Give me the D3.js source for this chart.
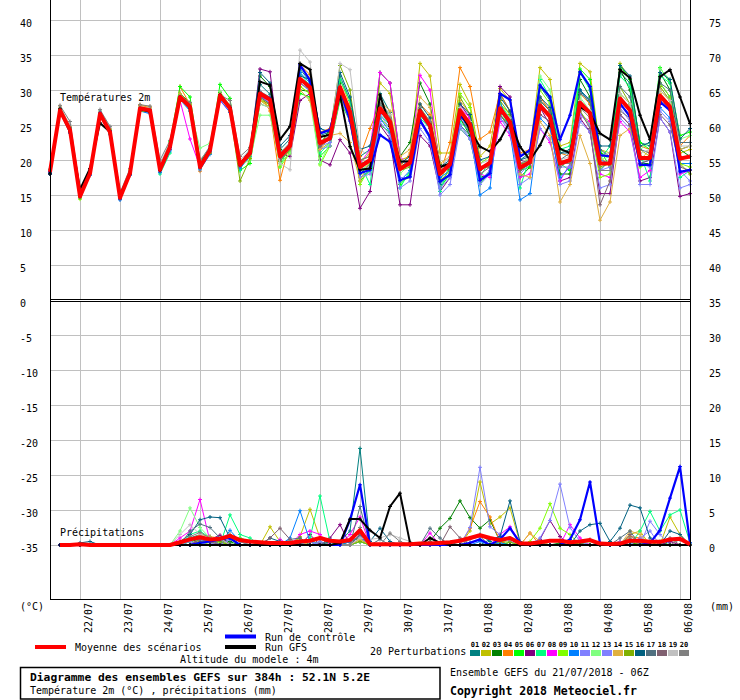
<!DOCTYPE html>
<html>
<head>
<meta charset="utf-8">
<script src="https://cdn.jsdelivr.net/npm/d3@7"></script>
<style>
body { margin: 0; background: #fff; }
text { font-family: "DejaVu Sans Mono", monospace; font-size: 10px; fill: #000; }
</style>
</head>
<body>
<script>
// run time axis: 21/07/2018 06Z + 0..384h every 6h
var hours = d3.range(0, 385, 6);
var dayHours = d3.range(18, 384, 24);
var dayLabels = ['22/07','23/07','24/07','25/07','26/07','27/07','28/07','29/07','30/07','31/07','01/08','02/08','03/08','04/08','05/08','06/08'];
var leftTicks = [40,35,30,25,20,15,10,5,0,-5,-10,-15,-20,-25,-30,-35];
var rightTicks = [75,70,65,60,55,50,45,40,35,30,25,20,15,10,5,0];

var pertNames = ['01','02','03','04','05','06','07','08','09','10','11','12','13','14','15','16','17','18','19','20'];
var pertColors = ['#008080','#c0c000','#008000','#ff8000','#00ff00','#800080','#00ff80','#ff00ff','#80ff00','#0080ff',
                  '#8080ff','#80ff80','#8080ff','#e0b040','#80b000','#006080','#507080','#806070','#c0c0c0','#808080'];

// temperature 2m (°C)
var tMean = [18.3,27.1,24.3,14.8, 18.1,26.6,24.0,14.6, 18.1,27.4,27.1,18.6, 21.9,29.0,27.6,19.0, 21.4,29.2,27.4,19.3, 21.0,29.5,28.6,20.5, 22.0,31.6,30.4,22.4, 23.1,30.4,26.9,19.0, 20.0,27.4,25.5,18.7, 19.6,27.0,24.9,18.0, 19.4,27.1,25.1,18.7, 19.6,27.4,25.4,18.9, 19.7,27.8,26.2,19.5, 20.0,28.2,26.7,19.5, 19.5,28.8,27.1,20.3, 20.3,29.2,27.6,20.2, 20.5];
var tCtl = [18.3,27.0,24.2,14.8, 18.2,26.7,24.0,14.6, 18.1,27.3,27.0,18.6, 21.8,29.0,27.5,19.0, 21.3,29.1,27.3,19.2, 21.0,29.5,28.8,20.5, 22.0,33.6,31.4,23.8, 24.3,30.0,25.7,18.1, 18.6,23.6,22.6,17.1, 17.6,25.7,23.3,16.9, 17.9,26.4,24.8,17.1, 18.1,29.5,28.6,20.5, 21.4,30.7,29.0,22.9, 26.4,32.6,30.5,20.7, 20.5,28.1,26.2,19.3, 19.3,28.3,27.1,18.3, 18.6];
var tGfs = [18.0,27.3,24.0,15.8, 18.8,25.3,24.0,15.0, 18.0,27.3,26.9,18.5, 22.0,29.0,27.4,19.2, 21.6,29.3,27.5,19.5, 21.0,31.2,30.7,22.9, 24.8,33.8,32.9,23.3, 23.6,29.3,21.9,18.6, 18.8,29.3,24.8,19.8, 19.8,27.1,25.0,19.0, 19.5,27.0,24.3,21.9, 21.2,22.9,25.5,21.9, 20.0,22.1,25.2,21.6, 21.0,27.6,26.7,23.8, 22.9,32.9,31.7,26.4, 22.9,31.9,32.9,29.0, 25.2];

var t01 = [18.0,27.4,24.0,14.9, 18.3,26.9,24.3,14.5, 18.0,27.2,26.8,18.3, 21.5,28.6,27.2,19.6, 21.8,29.0,27.8,19.0, 21.5,30.8,29.4,21.5, 23.0,33.0,31.2,23.5, 24.0,32.0,28.5,20.5, 21.5,29.5,26.8,19.0, 20.0,25.5,23.0,16.5, 18.0,25.0,23.5,17.0, 18.5,29.5,27.0,20.0, 21.0,30.5,28.5,21.0, 21.5,30.0,28.0,18.5, 20.0,32.5,31.0,22.5, 22.0,31.0,29.0,21.5, 22.0];
var t02 = [18.5,27.0,24.5,14.7, 18.0,26.8,23.8,14.8, 18.3,27.6,27.3,18.8, 22.0,29.3,28.0,19.3, 21.0,29.4,27.0,19.8, 20.5,28.5,28.0,20.0, 21.5,30.5,29.5,21.5, 22.5,31.5,28.0,19.5, 21.0,31.0,29.5,20.0, 20.5,33.8,32.0,21.0, 21.0,30.8,28.0,20.5, 22.0,30.2,28.5,20.5, 21.5,33.2,31.5,22.0, 22.5,33.8,32.6,21.5, 21.0,33.8,31.5,21.5, 20.5,30.0,28.5,21.0, 21.5];
var t03 = [18.2,27.3,24.6,15.0, 18.4,26.4,24.1,14.4, 18.2,27.5,27.0,18.5, 22.4,29.5,28.2,19.8, 21.2,29.6,27.6,19.0, 20.8,32.0,30.5,21.5, 21.0,30.0,29.8,22.0, 24.5,31.0,26.0,18.0, 19.5,32.5,31.0,20.5, 22.5,31.0,28.0,19.5, 18.5,26.0,23.5,17.5, 18.0,26.5,24.5,17.5, 19.0,28.5,27.0,18.0, 18.0,31.5,29.0,21.0, 20.5,33.0,30.0,19.5, 19.5,32.5,30.0,21.5, 20.5];
var t04 = [18.5,27.5,24.2,14.6, 17.9,26.9,24.2,14.7, 18.0,27.8,27.5,18.9, 21.7,30.5,27.9,18.4, 21.8,28.8,27.2,19.5, 21.0,29.5,27.0,17.1, 22.5,33.6,32.2,24.0, 24.5,29.5,25.5,20.5, 24.5,28.0,25.0,19.0, 21.0,28.0,26.5,18.0, 22.5,33.2,30.5,23.0, 24.0,29.5,27.0,21.0, 21.5,29.0,27.0,21.0, 20.5,29.5,28.0,20.5, 19.0,29.5,28.0,22.0, 21.5,30.0,28.5,22.0, 23.5];
var t05 = [18.6,27.0,24.1,14.7, 18.2,26.7,23.7,14.9, 18.4,27.3,27.2,19.0, 22.6,30.5,29.0,20.0, 21.5,30.8,28.8,18.5, 19.5,28.0,27.5,19.5, 21.0,29.5,29.0,20.5, 22.0,28.5,25.5,17.0, 18.5,25.0,24.0,16.5, 18.0,25.5,23.5,16.0, 18.0,24.5,23.0,16.5, 18.5,26.5,25.0,18.5, 19.0,27.5,26.5,19.5, 18.5,33.0,31.5,21.5, 19.0,33.5,31.5,22.5, 21.5,33.2,31.0,23.5, 24.0];
var t06 = [18.0,27.2,24.4,15.0, 18.0,26.5,24.0,14.4, 18.0,27.0,26.8,18.3, 21.5,28.8,27.4,19.2, 21.0,29.0,27.5,19.5, 21.5,33.0,32.6,21.0, 20.5,28.5,29.5,20.0, 19.3,22.9,21.0,13.1, 15.5,25.0,23.0,13.6, 13.6,23.5,22.0,15.5, 17.5,28.0,26.0,19.0, 19.0,30.5,29.0,20.0, 19.5,27.5,25.0,17.0, 17.5,26.0,24.0,15.2, 15.2,26.5,25.0,17.0, 17.5,26.0,24.0,14.8, 15.2];
var t07 = [18.1,26.9,24.2,14.6, 18.3,27.0,24.5,14.8, 17.9,27.3,27.0,18.0, 21.0,29.2,27.0,20.0, 21.5,29.5,27.6,18.5, 21.8,29.0,28.0,19.0, 22.5,32.5,30.5,21.0, 22.5,31.5,28.5,19.5, 16.5,26.5,25.0,16.0, 18.5,26.0,24.5,15.5, 19.5,25.5,24.0,17.5, 20.0,28.0,26.0,16.0, 20.5,31.5,29.0,21.5, 22.0,32.5,30.0,20.0, 22.0,32.0,30.5,21.0, 17.0,32.0,31.0,17.5, 18.5];
var t08 = [18.4,27.1,24.0,15.1, 18.1,26.6,23.9,14.6, 18.3,27.5,27.1,19.2, 22.0,28.5,23.0,19.0, 22.0,28.5,26.8,19.5, 21.0,29.0,28.5,21.0, 22.0,31.5,30.0,21.5, 23.5,30.5,27.0,19.5, 21.5,32.5,31.0,20.5, 19.0,32.1,30.0,18.5, 19.5,27.5,26.0,18.0, 17.5,25.5,23.5,17.5, 18.0,24.5,22.5,17.0, 19.5,26.5,25.5,18.0, 17.5,25.5,24.0,17.5, 18.5,29.0,27.5,18.0, 18.5];
var t09 = [18.3,27.4,24.7,14.4, 18.5,26.9,24.4,15.0, 18.6,27.6,27.3,18.7, 22.2,29.4,27.8,19.4, 21.6,29.2,27.2,19.4, 20.6,28.5,27.5,19.0, 21.0,30.5,29.5,19.3, 22.0,29.0,26.0,16.5, 19.0,26.0,24.5,17.0, 17.5,27.5,25.5,17.0, 20.0,29.5,27.5,19.5, 20.5,28.0,26.5,19.0, 20.5,30.0,28.0,20.0, 19.5,27.0,25.0,17.5, 18.0,29.0,27.5,19.0, 19.5,31.0,29.0,19.5, 19.0];
var t10 = [18.0,26.8,23.8,14.9, 17.8,26.3,23.6,14.3, 17.8,27.0,26.6,18.2, 21.3,28.6,27.0,18.6, 20.8,28.6,26.8,18.8, 20.5,29.2,28.0,20.0, 21.5,32.5,31.0,22.5, 23.0,30.0,26.5,17.5, 18.5,26.0,24.0,17.0, 18.5,26.5,24.5,17.5, 18.5,26.5,24.0,15.0, 16.0,28.5,24.0,14.3, 15.2,26.0,24.5,17.5, 19.0,30.0,28.5,20.0, 19.5,28.0,26.5,19.5, 20.0,27.5,26.0,19.5, 19.5];
var t11 = [18.2,27.0,24.2,14.7, 18.0,26.5,24.0,14.7, 18.1,27.2,26.9,18.4, 21.6,28.9,27.4,18.8, 21.2,29.0,27.3,19.1, 20.8,29.0,28.2,20.2, 21.5,31.0,29.8,21.5, 22.0,29.0,25.5,17.5, 18.0,25.5,23.5,16.0, 17.0,24.5,22.5,16.0, 17.5,25.0,23.0,16.5, 18.0,26.0,24.0,16.5, 17.5,24.5,23.0,16.5, 17.0,25.5,24.0,16.0, 16.5,26.0,24.5,16.5, 16.5,26.0,24.0,16.0, 16.5];
var t12 = [18.4,27.2,24.5,14.9, 18.2,26.8,24.1,14.8, 18.2,27.3,27.0,18.6, 21.9,29.0,27.3,21.7, 22.4,29.8,27.8,19.3, 20.0,26.4,26.4,19.5, 21.0,30.0,28.5,19.5, 22.5,30.0,27.0,18.5, 19.5,27.5,25.5,18.0, 19.5,27.0,25.0,18.5, 19.0,26.5,24.5,18.5, 19.5,27.5,25.5,19.0, 20.0,32.0,30.0,21.5, 21.0,29.0,27.0,20.0, 20.5,29.5,28.0,21.5, 22.5,33.0,31.5,23.0, 23.5];
var t13 = [18.3,27.1,24.3,14.8, 18.2,26.6,24.2,14.5, 18.0,27.4,27.2,18.8, 22.0,29.1,27.7,19.1, 21.4,29.3,27.5,19.2, 21.2,29.8,28.8,20.8, 22.0,31.0,30.0,22.0, 22.5,29.5,26.5,18.5, 19.0,26.5,24.5,17.5, 17.5,25.5,23.0,15.0, 16.5,24.5,23.0,17.0, 18.5,26.0,24.5,18.0, 19.5,26.5,25.5,19.0, 19.0,26.5,25.0,18.5, 19.0,27.5,25.5,19.5, 19.0,27.0,25.5,18.5, 17.0];
var t14 = [18.6,27.7,24.8,15.1, 18.4,26.9,24.5,14.9, 18.5,27.9,27.6,18.9, 22.2,29.5,28.0,19.5, 21.6,29.5,27.8,19.6, 21.0,28.5,27.5,20.0, 22.5,30.0,28.5,21.5, 23.5,23.8,22.5,17.0, 20.0,28.5,27.0,20.5, 21.5,29.0,27.5,19.5, 20.5,28.5,26.5,18.5, 20.0,27.5,25.5,18.0, 17.5,25.5,23.5,14.0, 16.5,23.5,19.5,11.4, 14.0,23.5,24.5,20.0, 21.5,29.5,28.0,21.5, 22.0];
var t15 = [18.2,27.4,24.4,14.6, 18.3,26.3,23.8,14.6, 18.3,27.0,26.9,18.5, 21.8,28.8,27.6,18.9, 21.0,29.1,27.0,17.0, 20.2,28.8,27.8,19.8, 21.5,31.5,30.5,22.5, 24.0,33.5,30.0,20.0, 20.5,28.5,26.0,18.5, 19.0,27.0,24.5,17.0, 18.5,29.0,26.5,19.0, 19.0,28.5,26.5,19.5, 19.5,28.0,26.0,19.5, 20.0,28.5,26.5,19.0, 19.5,30.5,28.0,20.5, 20.0,30.5,28.5,19.5, 18.0];
var t16 = [18.1,26.9,24.3,14.9, 18.1,26.7,24.2,14.6, 18.1,27.4,27.0,18.6, 21.9,28.9,27.5,19.0, 21.4,29.1,27.3,19.4, 21.5,32.5,31.0,22.0, 23.5,32.0,31.5,24.5, 24.0,32.5,29.0,21.5, 22.0,28.0,26.5,19.5, 20.5,28.0,26.0,19.0, 20.0,28.0,26.5,20.0, 20.5,29.0,27.0,20.0, 20.5,29.0,27.5,21.0, 21.0,30.0,28.5,22.0, 22.0,33.5,32.0,22.0, 22.5,32.5,31.5,23.0, 24.5];
var t17 = [18.4,27.2,24.6,15.2, 18.0,26.6,24.1,14.5, 18.3,27.3,27.2,18.7, 21.9,29.0,27.6,19.0, 21.5,29.3,27.7,19.3, 21.0,29.5,28.5,20.5, 22.5,31.5,30.0,22.0, 23.0,30.5,27.0,19.0, 20.0,27.0,25.0,18.5, 19.5,26.5,24.5,18.0, 19.0,27.0,25.0,18.5, 19.5,27.0,25.0,18.5, 19.5,28.5,27.0,20.0, 21.0,29.5,28.5,21.5, 20.5,30.5,29.0,21.5, 21.0,31.0,30.0,22.5, 22.5];
var t18 = [18.2,27.0,24.4,14.8, 18.1,26.5,24.0,14.6, 18.2,27.2,26.9,18.5, 21.8,28.7,27.4,18.8, 21.3,29.0,27.3,19.1, 20.8,29.0,28.0,20.0, 22.0,31.5,30.0,22.0, 23.0,30.5,27.0,19.5, 20.0,27.0,25.5,19.0, 19.5,27.5,25.0,18.0, 19.0,26.0,24.0,18.0, 19.0,26.5,24.5,18.5, 19.5,26.5,25.5,19.0, 20.0,27.0,24.5,13.6, 17.0,26.5,25.0,19.5, 20.0,26.5,25.0,19.0, 18.5];
var t19 = [18.5,27.5,25.0,15.5, 18.5,27.0,24.6,15.0, 18.5,27.6,27.4,19.5, 22.5,28.6,27.3,20.0, 21.8,28.7,27.3,20.0, 21.5,28.0,27.5,19.5, 18.6,35.7,34.0,23.5, 23.5,33.8,32.9,21.5, 20.5,28.5,26.5,18.5, 20.0,27.0,25.5,19.0, 20.5,27.5,25.5,19.5, 20.0,27.5,26.0,19.5, 20.5,27.5,26.0,20.0, 20.5,28.5,27.0,20.5, 21.0,29.5,28.0,21.0, 21.5,30.0,28.5,22.0, 22.0];
var t20 = [18.7,27.8,25.5,15.8, 18.6,27.2,24.8,15.3, 18.8,27.9,27.7,20.0, 22.8,29.2,28.2,19.8, 22.0,29.3,28.5,20.5, 21.8,29.8,29.0,21.0, 22.5,31.0,30.0,22.5, 23.5,30.5,27.5,20.0, 20.5,28.0,26.0,19.5, 20.0,27.5,25.5,18.5, 19.5,27.0,25.0,19.0, 19.5,27.0,25.5,19.5, 20.0,28.0,26.0,19.5, 19.5,27.5,26.0,18.5, 18.5,27.0,26.0,20.0, 20.5,28.5,27.5,20.0, 20.5];

// precipitation (mm per 6h), no value at the first step
var pMean = [null, 0,0,0.1,0,0,0,0,0,0,0,0,0, 0.4,0.8,1.1,0.8,0.9,1.3,0.7,0.5,0.4,0.3,0.3,0.3, 0.5,0.6,1.0,0.6,0.5,0.7,2.1,0.1,0.1,0.1,0.1,0.1, 0.2,0.2,0.3,0.4,0.6,1.0,1.4,1.0,0.7,1.0,0.25,0.2, 0.4,0.6,0.6,0.4,0.5,0.7,0.2,0.15,0.2,0.6,0.6,0.45,0.45,0.8,0.9,0.1];
var pCtl = [null, 0,0,0,0,0,0,0,0,0,0,0,0, 0,0,0.3,0.5,0.8,1.0,0,0,0,0,0,0, 0,0,0,0,0,3.6,8.6,0,0,0,0,0, 0,0,0,0,0,0.3,0.8,0,0.8,2.4,0.3,0, 0,0,0,0.8,3.6,9.0,0.2,0,0,0,0,0.3,2.1,6.7,11.2,0.3];
var pGfs = [null, 0,0,0,0,0,0,0,0,0,0,0,0, 0,0,0,0,0,0,0,0,0,0,0,0, 0,0,0,0,0.3,3.7,3.7,2.1,1.0,5.5,7.4,0.3, 0,1.0,0.3,0,0,0,0,0,0,0,0,0, 0,0,0,0,0,0,0,0,0,0,0,0,0,0,0,0];

var p01 = [null, 0,0,0,0,0,0,0,0,0,0,0,0, 0.3,1.0,1.5,0.5,0.8,0.5,0,0,0,0,0,0, 0.3,0,0,0,0.5,2.0,13.8,0.2,0,0,0,0, 0,0,0,0,0.5,1.0,1.5,0.5,0,0,0,0, 0.4,0,0,0,0.3,0,0,0,0,0.5,0,0,0,0.5,0.8,0];
var p02 = [null, 0,0,0,0,0,0,0,0,0,0,0,0, 0.2,0,0.5,0,1.2,0.8,0,0,0,2.6,0.5,0, 1.2,5.1,1.0,0,0,0,1.5,0,0,0,0,0, 0,0,0,0,0,2.0,9.0,3.0,4.0,5.3,0.3,0, 0,0,0,0.5,0,0,0,0,0,1.5,2.0,0,0,4.0,1.5,0];
var p03 = [null, 0,0,0,0,0,0,0,0,0,0,0,0, 0,0.5,0.8,1.2,0,0.5,0,0,0,0,0,0, 0,0,0.5,0,0,0.5,1.0,0,0,0,0,0, 0,0.5,2.4,3.8,6.3,3.9,2.4,3.6,0.5,0,0,0, 0,0,0.3,0,0,0,0,0,0,0.4,0,0,0,0,0,0];
var p04 = [null, 0,0,0,0,0,0,0,0,0,0,0,0, 0,0,0.8,0.5,0,1.5,0.5,0,0,0,0,0, 0.5,0,0,0,0,0.8,1.0,0,0,0,0,0, 0,0,0,0,0,2.4,6.2,4.0,0.5,0,0,1.7, 0,0,0,0,0,0,0,0,0,1.2,1.0,0,0,0,0,0];
var p05 = [null, 0,0,0,0,0,0,0,0,0,0,0,0, 0,0.5,0.2,0,0,0,1.0,0.5,0,0,0,0, 0,0.8,0,0,0,0,0.5,0,0,0.2,0,0, 0,0,0,0,0,0,0,0,0,0.4,0,0, 0,0,0,0,0.3,0,0,0,0,0,0,0,0.5,0,0,0];
var p06 = [null, 0,0,0,0,0,0,0,0,0,0,0,0, 0,0,1.0,0.8,1.4,0,0,0,0,0,0,0, 0,1.5,0,1.0,2.9,0,0.5,0,0,0,0,0, 0,0,0,0,0,0,0,0,0,0,0,0, 0.8,3.5,1.2,0,0,0,0,0,0.5,0,0,0,0,0.5,0,0];
var p07 = [null, 0,0,0,0,0,0,0,0,0,0,0,0, 0,1.5,2.0,1.0,0,4.3,1.5,1.0,0,0,0,0, 0,1.0,7.0,0.5,0,0,0.5,0,0,0,0,0, 0,0,0,0,0,0,0,0,0,0,0,0, 0,0,0,0,0,0,0,0,0,0,2.0,4.8,2.0,4.3,5.0,0.3];
var p08 = [null, 0,0,0,0,0,0,0,0,0,0,0,0, 1.0,2.0,6.5,0.5,0.5,0,0,0,0,0,0.8,0, 1.5,2.0,1.5,0,0,1.5,4.0,0,0,0,0,0, 0,1.7,0,0,0,0,0,0,1.5,2.6,0.5,0, 0,0,0,2.9,1.0,0,0,0,0,0,0,0,0,0,0,0];
var p09 = [null, 0,0,0,0,0,0,0,0,0,0,0,0, 0,1.0,0.5,0,0.3,0,0,0,0,0,0,0.5, 0,0,0,0,0,0,0.8,0,0,0,0,0, 0,0,0,0,0,0,0,0,0,0,0,0.5, 2.4,5.9,2.4,1.5,0,0,0,0.3,0,0,0,0,0,0,0,0];
var p10 = [null, 0,0,0,0,0,0,0,0,0,0,0,0, 0,0,0.5,0.8,0,2.1,0.5,0,0,0,0,1.0, 4.9,0.5,0,0,0,0.5,1.2,0,0,0,0,0, 0,0,0,0,0,0,0.5,0,0.3,0,0,0, 0,0,0,0,0,0,0.3,0,0,0,0,0,0,0,0,0];
var p11 = [null, 0,0,0,0,0,0,0,0,0,0,0,0, 0,0.5,0,0.5,0,0.8,0,0,0,0,0,0, 0,0.6,0,0,0,0,1.5,0,0,0,0,0, 0,0,0,0,0,2.5,11.1,2.6,1.5,0.5,0,0, 0,0,0,0,0,0,0,0,0.5,0,0,3.4,1.5,0,0,0];
var p12 = [null, 0,0,0,0,0,0,0,0,0,0,0,0, 2.0,5.3,2.5,1.0,0.6,0,0,0,0,0,0,0.5, 0,0,0,0,0,0,0.5,0,0,0,0,0, 0,0,0,0,0,0,0,0,0,0,0.3,0, 0,0,0,0,0,0.5,0,0,0,0,0,0,0,0,0,0];
var p13 = [null, 0,0,0,0,0,0,0,0,0,0,0,0, 0,0,0.6,0.3,0,0,0,0,0,0.3,0,0, 0,0,0.5,0,0,0,1.0,0,0,0,0,0, 0,0,0,0,0,0,0,0,0,0,0,0, 1.0,3.5,8.7,2.5,0.5,0,0,0,0,0,1.0,2.0,0,0,0,0];
var p14 = [null, 0,0,0,0,0,0,0,0,0,0,0,0, 0,0.8,1.5,1.2,1.0,0,0,0,0,0,0,0, 0.5,0,0,0.5,0,0,0.8,0,0,0,0,0, 0,0,0,0,0,0,0,0,0.8,1.0,0,1.7, 0.5,0,0,0,0,0,0,0,0,2.0,1.5,0,0,0,0,0];
var p15 = [null, 0,0,0,0,0,0,0,0,0,0,0,0, 0,0,0.5,0.4,0.5,0,0,0,0,0,0.5,0, 1.0,0,0,0,0,0,0.5,0,0,0,0,0, 0,0,0,0,0,0,0,0,0.5,0.4,0,0, 0,0,0,0,0,0,0,0,0,0,0.3,0,0,0,0,0];
var p16 = [null, 0,0,0.3,0.5,0,0,0,0,0,0,0,0, 0.5,1.5,3.6,4.0,3.9,1.0,0,0,0,1.0,0.5,0, 0,0,0,0.5,0,0,1.5,0.5,2.4,0.5,0,0, 0,0,0,0,0,0,0,0.8,1.2,6.3,0.5,0, 0,0,0,0,2.0,2.9,3.1,0.5,2.4,5.7,5.3,1.0,0,2.0,1.5,0];
var p17 = [null, 0,0,0,0,0,0,0,0,0,0,0,0, 0,2.0,3.0,2.5,1.0,0,0,0,0,0,0,0.8, 1.0,0,0,0.8,0,0,5.5,0,0.8,0,0,0, 0,2.4,1.0,0,0,0,0,0,0,0,0,0, 0,0,0,0,0,0,0,0,1.0,2.0,0,0,0,0,0,0];
var p18 = [null, 0,0,0,0,0,0,0,0,0,0,0,0, 0,0,0.8,0.5,0,0,0,0,0,1.0,2.4,0.8, 0,0,0,0,0,0,1.5,0,0,0,0,0, 0,0.5,0,2.6,1.0,0,0,0,0,0,0,0, 0,0,0,0,0,0.8,0,0,0,1.5,0,0,0,1.0,0,0];
var p19 = [null, 0,0,0,0,0,0,0,0,0,0,0,0, 1.5,2.9,1.5,0.8,1.0,0,0.8,0,0,0,0,0, 0,0,0,0,0,0,1.0,0.8,1.0,1.5,1.0,0.5, 0,0,0,0,0,0,0,0,0,0,0,0, 0,0,0,0,0,0,0,0,0,0,0,0,0,0,0,0];
var p20 = [null, 0,0,0,0,0,0,0,0,0,0,0,0, 0,1.2,1.8,1.0,0,1.5,0.5,0,0,0,0,0, 0,0,0,0,0,0,2.5,0,0,1.7,0.5,0, 0,0,0,0,0,0.8,1.2,0,0,0,0,0, 0,0,0,0,0,0,0,0,0,1.0,0,0,0,0,0.8,0];

var tPert = [t01,t02,t03,t04,t05,t06,t07,t08,t09,t10,t11,t12,t13,t14,t15,t16,t17,t18,t19,t20];
var pPert = [p01,p02,p03,p04,p05,p06,p07,p08,p09,p10,p11,p12,p13,p14,p15,p16,p17,p18,p19,p20];

var svg = d3.select('body').append('svg')
    .attr('width', 740)
    .attr('height', 700);

svg.append('rect').attr('width', 740).attr('height', 700).attr('fill', '#fff');

var x = d3.scaleLinear().domain([0, 384]).range([50, 690]);
var yT = d3.scaleLinear().domain([0, 40]).range([300, 20]);     // temperature panel
var yP = d3.scaleLinear().domain([0, 35]).range([545, 300]);    // precipitation panel
var yAx = d3.scaleLinear().domain([-35, 40]).range([545, 20]);  // tick labels, both panels

// grid
var grid = svg.append('g').attr('stroke', '#c0c0c0').attr('stroke-width', 1).attr('shape-rendering', 'crispEdges');
dayHours.forEach(function(h) {
    var gx = Math.round(x(h)) + 0.5;
    grid.append('line').attr('x1', gx).attr('x2', gx).attr('y1', 0).attr('y2', 299);
    grid.append('line').attr('x1', gx).attr('x2', gx).attr('y1', 301).attr('y2', 600);
});
leftTicks.forEach(function(v) {
    if (v == 0) return;
    var gy = Math.round(yAx(v)) + 0.5;
    grid.append('line').attr('x1', 50).attr('x2', 690).attr('y1', gy).attr('y2', gy);
});

// lines
var lineT = d3.line().x(function(d, i) { return x(hours[i]); }).y(function(d) { return yT(d); });
var lineP = d3.line().defined(function(d) { return d != null; })
    .x(function(d, i) { return x(hours[i]); }).y(function(d) { return yP(d); });

function crosses(vals, yScale) {
    var s = '';
    vals.forEach(function(d, i) {
        if (d == null) return;
        var px = x(hours[i]), py = yScale(d);
        s += 'M' + (px - 2) + ',' + py + 'h4M' + px + ',' + (py - 2) + 'v4';
    });
    return s;
}

function drawSeries(vals, line, yScale, color, width, marks) {
    svg.append('path').attr('d', line(vals))
        .attr('fill', 'none').attr('stroke', color).attr('stroke-width', width)
        .attr('stroke-linejoin', 'round');
    if (marks) {
        svg.append('path').attr('d', crosses(vals, yScale))
            .attr('fill', 'none').attr('stroke', color).attr('stroke-width', 1);
    }
}

tPert.forEach(function(s, k) { drawSeries(s, lineT, yT, pertColors[k], 1, true); });
pPert.forEach(function(s, k) { drawSeries(s, lineP, yP, pertColors[k], 1, true); });
drawSeries(tCtl, lineT, yT, '#0000ff', 2.2, true);
drawSeries(pCtl, lineP, yP, '#0000ff', 2.2, true);
drawSeries(tGfs, lineT, yT, '#000000', 2, true);
drawSeries(pGfs, lineP, yP, '#000000', 2, true);
drawSeries(tMean, lineT, yT, '#ff0000', 4, false);
drawSeries(pMean, lineP, yP, '#ff0000', 4, false);

// frame
var frame = svg.append('g').attr('stroke', '#000').attr('stroke-width', 1).attr('shape-rendering', 'crispEdges');
frame.append('line').attr('x1', 50.5).attr('x2', 50.5).attr('y1', 0).attr('y2', 600);
frame.append('line').attr('x1', 690.5).attr('x2', 690.5).attr('y1', 0).attr('y2', 600);
frame.append('line').attr('x1', 50).attr('x2', 691).attr('y1', 299.5).attr('y2', 299.5);
frame.append('line').attr('x1', 50).attr('x2', 691).attr('y1', 301.5).attr('y2', 301.5);
frame.append('line').attr('x1', 50).attr('x2', 691).attr('y1', 599.5).attr('y2', 599.5);

// tick labels
svg.selectAll('.lt').data(leftTicks).enter().append('text')
    .attr('x', 20).attr('y', function(d) { return yAx(d) + 6.5; }).text(function(d) { return d; });
svg.selectAll('.rt').data(rightTicks).enter().append('text')
    .attr('x', 709).attr('y', function(d, i) { return yAx(leftTicks[i]) + 6.5; }).text(function(d) { return d; });

svg.selectAll('.dl').data(dayLabels).enter().append('text')
    .attr('text-anchor', 'end')
    .attr('transform', function(d, i) { return 'translate(' + (x(dayHours[i]) + 11.5) + ',603) rotate(-90)'; })
    .text(function(d) { return d; });

svg.append('text').attr('x', 20).attr('y', 610).text('(°C)');
svg.append('text').attr('x', 710).attr('y', 610).text('(mm)');
svg.append('text').attr('x', 60).attr('y', 101).text('Températures 2m');
svg.append('text').attr('x', 60).attr('y', 536).text('Précipitations');

// legend
svg.append('line').attr('x1', 35).attr('x2', 66).attr('y1', 647).attr('y2', 647).attr('stroke', '#ff0000').attr('stroke-width', 4);
svg.append('text').attr('x', 75).attr('y', 651).text('Moyenne des scénarios');
svg.append('line').attr('x1', 225).attr('x2', 256).attr('y1', 636.5).attr('y2', 636.5).attr('stroke', '#0000ff').attr('stroke-width', 4);
svg.append('text').attr('x', 265).attr('y', 641).text('Run de contrôle');
svg.append('line').attr('x1', 225).attr('x2', 256).attr('y1', 647).attr('y2', 647).attr('stroke', '#000').attr('stroke-width', 4);
svg.append('text').attr('x', 265).attr('y', 651).text('Run GFS');
svg.append('text').attr('x', 180).attr('y', 663).text('Altitude du modele : 4m');

svg.append('text').attr('x', 370).attr('y', 655).text('20 Perturbations');
svg.selectAll('.sw').data(pertColors).enter().append('rect')
    .attr('x', function(d, i) { return 470 + i * 11; }).attr('y', 650)
    .attr('width', 10).attr('height', 6).attr('fill', function(d) { return d; });
svg.selectAll('.sn').data(pertNames).enter().append('text')
    .attr('x', function(d, i) { return 475 + i * 11; }).attr('y', 646.5)
    .attr('text-anchor', 'middle')
    .style('font-size', '7px').style('font-weight', 'bold')
    .text(function(d) { return d; });

svg.append('rect').attr('x', 20.5).attr('y', 667.5).attr('width', 419.5).attr('height', 31.5)
    .attr('fill', 'none').attr('stroke', '#000').attr('stroke-width', 1.5);
svg.append('text').attr('x', 30).attr('y', 681).style('font-size', '11.3px').style('font-weight', 'bold')
    .text('Diagramme des ensembles GEFS sur 384h : 52.1N 5.2E');
svg.append('text').attr('x', 30).attr('y', 694).text('Température 2m (°C) , précipitations (mm)');
svg.append('text').attr('x', 450).attr('y', 676).text('Ensemble GEFS du 21/07/2018 - 06Z');
svg.append('text').attr('x', 450).attr('y', 695).style('font-size', '11.5px').style('font-weight', 'bold')
    .text('Copyright 2018 Meteociel.fr');
</script>
</body>
</html>
